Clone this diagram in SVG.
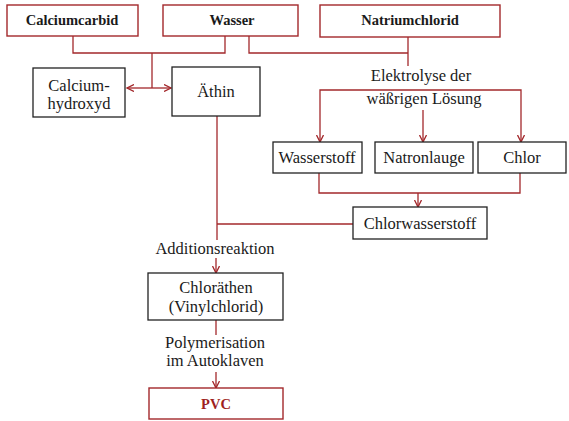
<svg xmlns="http://www.w3.org/2000/svg" width="569" height="421" viewBox="0 0 569 421">
<defs>
<style>
text{font-family:"Liberation Serif","Times New Roman",serif;font-size:16.5px;fill:#1a1a1a;text-anchor:middle}
.b{font-weight:bold;font-size:14.5px}
.red{fill:#9e1f22}
.rbox{fill:#fff;stroke:#a3282b;stroke-width:1.4}
.kbox{fill:#fff;stroke:#222;stroke-width:1.3}
.ln{fill:none;stroke:#a3282b;stroke-width:1.3}
.ar{fill:none;stroke:#a3282b;stroke-width:1.3;marker-end:url(#ah)}
</style>
<marker id="ah" viewBox="0 0 8 8" refX="7" refY="4" markerWidth="8" markerHeight="8" markerUnits="userSpaceOnUse" orient="auto-start-reverse">
<path d="M0,0.5 L7,4 L0,7.5" fill="none" stroke="#a3282b" stroke-width="1.3"/>
</marker>
</defs>
<rect width="569" height="421" fill="#fff"/>
<g id="connectors">
<polyline class="ln" points="73,36 73,53 225,53 225,36"/>
<line class="ln" x1="152" y1="53" x2="152" y2="88"/>
<line class="ar" x1="152" y1="88" x2="127" y2="88"/>
<line class="ar" x1="152" y1="88" x2="171" y2="88"/>
<polyline class="ln" points="249,36 249,53 408,53"/>
<line class="ln" x1="408" y1="37" x2="408" y2="66"/>
<polyline class="ln" points="320,120 320,90 521,90 521,120"/>
<line class="ar" x1="320" y1="120" x2="320" y2="142"/>
<line class="ar" x1="521" y1="120" x2="521" y2="142"/>
<line class="ar" x1="423" y1="110" x2="423" y2="142"/>
<polyline class="ln" points="319,173 319,193 520,193 520,173"/>
<line class="ar" x1="418" y1="193" x2="418" y2="207"/>
<polyline class="ln" points="353,224 217,224"/>
<line class="ln" x1="217" y1="116" x2="217" y2="240"/>
<line class="ar" x1="216" y1="258" x2="216" y2="273"/>
<line class="ln" x1="216" y1="320" x2="216" y2="335"/>
<line class="ar" x1="216" y1="372" x2="216" y2="388"/>
</g>
<g id="calciumcarbid"><rect class="rbox" x="7" y="5" width="131" height="31"/><text class="b" x="72" y="25">Calciumcarbid</text></g>
<g id="wasser"><rect class="rbox" x="163" y="5" width="135" height="31"/><text class="b" x="232" y="25">Wasser</text></g>
<g id="natriumchlorid"><rect class="rbox" x="320" y="5" width="180" height="32"/><text class="b" x="410" y="25">Natriumchlorid</text></g>
<g id="calciumhydroxyd"><rect class="kbox" x="33" y="68" width="92" height="49"/><text x="79" y="91">Calcium-</text><text x="79" y="109">hydroxyd</text></g>
<g id="aethin"><rect class="kbox" x="172" y="67" width="88" height="49"/><text x="216" y="97">Äthin</text></g>
<g id="elektrolyse"><text x="421" y="81">Elektrolyse der</text><text x="424" y="104">wäßrigen Lösung</text></g>
<g id="wasserstoff"><rect class="kbox" x="273" y="142" width="89" height="31"/><text x="317" y="163">Wasserstoff</text></g>
<g id="natronlauge"><rect class="kbox" x="375" y="142" width="98" height="31"/><text x="424" y="163">Natronlauge</text></g>
<g id="chlor"><rect class="kbox" x="478" y="142" width="88" height="31"/><text x="522" y="163">Chlor</text></g>
<g id="chlorwasserstoff"><rect class="kbox" x="353" y="207" width="134" height="32"/><text x="420" y="229">Chlorwasserstoff</text></g>
<g id="additionsreaktion"><text x="215" y="254">Additionsreaktion</text></g>
<g id="chloraethen"><rect class="kbox" x="148" y="273" width="135" height="47"/><text x="216" y="293">Chloräthen</text><text x="216" y="312">(Vinylchlorid)</text></g>
<g id="polymerisation"><text x="215" y="348">Polymerisation</text><text x="215" y="366">im Autoklaven</text></g>
<g id="pvc"><rect class="rbox" x="149" y="388" width="134" height="31"/><text class="b red" x="216" y="409">PVC</text></g>
</svg>
